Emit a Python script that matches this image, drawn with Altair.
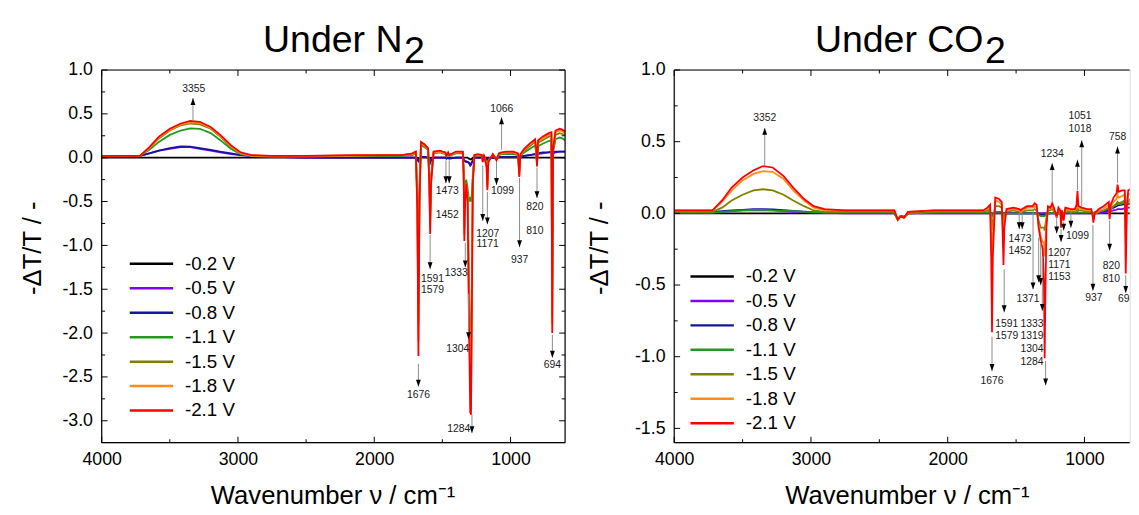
import altair as alt
import pandas as pd

FONT = "Liberation Sans"
SERIES = ["-0.2 V", "-0.5 V", "-0.8 V", "-1.1 V", "-1.5 V", "-1.8 V", "-2.1 V"]
COLORS = ["#000000", "#8000ff", "#14149c", "#1f9a1f", "#808000", "#ff8c1a", "#ff0000"]

X_MAJOR = [4000, 3000, 2000, 1000]
X_MINOR = [3500, 2500, 1500]
N2_Y_MAJOR = [1.0, 0.5, 0.0, -0.5, -1.0, -1.5, -2.0, -2.5, -3.0]
N2_Y_MINOR = [0.75, 0.25, -0.25, -0.75, -1.25, -1.75, -2.25, -2.75]
CO2_Y_MAJOR = [1.0, 0.5, 0.0, -0.5, -1.0, -1.5]
CO2_Y_MINOR = [0.75, 0.25, -0.25, -0.75, -1.25]

# ---------------- Under N2 ----------------
N2_WN = [4000, 3850, 3720, 3650, 3580, 3500, 3420, 3350, 3280, 3200,
         3130, 3050, 2980, 2900, 2750, 2500, 2200, 2000, 1800, 1720,
         1695, 1684, 1676, 1668, 1657, 1630, 1605, 1596, 1590, 1583,
         1565, 1520, 1477, 1470, 1458, 1450, 1400, 1350, 1344, 1339,
         1333, 1325, 1315, 1308, 1302, 1296, 1290, 1284, 1277, 1265,
         1240, 1210, 1204, 1195, 1176, 1170, 1163, 1130, 1103, 1085,
         1066, 1030, 980, 945, 936, 928, 900, 860, 820, 812,
         806, 798, 765, 720, 700, 694, 688, 670, 640, 620,
         600]
N2_BLACK = [0.0, 0.0, 0.0, 0.0, 0.0, 0.0, 0.0, 0.0, 0.0, 0.0,
            0.0, 0.0, 0.0, 0.0, 0.0, 0.0, 0.0, 0.0, 0.0, 0.0,
            0.0, 0.0, -0.01, 0.0, 0.0, 0.0, 0.0, 0.0, -0.01, 0.0,
            0.0, 0.0, 0.0, 0.0, 0.0, 0.0, 0.0, 0.0, 0.0, 0.0,
            0.0, 0.0, 0.0, -0.01, -0.01, -0.02, -0.02, -0.01, 0.0, 0.0,
            0.0, 0.0, 0.0, 0.0, 0.0, 0.0, 0.0, 0.0, 0.0, 0.0,
            0.0, 0.0, 0.0, 0.0, 0.0, 0.0, 0.0, 0.0, 0.0, 0.0,
            0.0, 0.0, 0.0, 0.0, 0.0, -0.01, 0.0, 0.0, 0.0, 0.0,
            0.0]
N2_PURPLE = [0.01, 0.01, 0.02, 0.05, 0.08, 0.1, 0.12, 0.12, 0.1, 0.08,
             0.06, 0.04, 0.03, 0.02, 0.01, 0.0, 0.0, 0.0, 0.0, 0.0,
             0.0, -0.02, -0.03, -0.02, 0.01, 0.01, 0.0, -0.02, -0.05, -0.03,
             0.0, 0.0, 0.0, -0.01, 0.0, -0.01, 0.0, 0.0, -0.02, -0.04,
             -0.04, -0.04, -0.05, -0.05, -0.06, -0.08, -0.07, -0.05, -0.03, 0.0,
             0.0, 0.0, -0.01, 0.0, -0.01, -0.03, -0.01, 0.0, -0.01, 0.01,
             0.01, 0.01, 0.01, 0.01, -0.02, 0.01, 0.02, 0.03, 0.04, 0.03,
             0.03, 0.04, 0.05, 0.06, 0.06, -0.03, 0.05, 0.06, 0.07, 0.07,
             0.07]
N2_BLUE = [0.01, 0.01, 0.02, 0.05, 0.08, 0.11, 0.13, 0.125, 0.11, 0.09,
           0.07, 0.05, 0.03, 0.02, 0.01, 0.0, 0.0, 0.0, 0.0, 0.0,
           0.0, -0.02, -0.04, -0.02, 0.01, 0.01, 0.0, -0.02, -0.06, -0.03,
           0.0, 0.0, 0.0, -0.01, 0.0, -0.01, 0.0, 0.0, -0.02, -0.04,
           -0.04, -0.05, -0.05, -0.06, -0.07, -0.09, -0.08, -0.06, -0.03, 0.0,
           0.0, 0.0, -0.01, 0.0, -0.01, -0.03, -0.01, 0.0, -0.01, 0.01,
           0.01, 0.01, 0.01, 0.01, -0.02, 0.01, 0.02, 0.03, 0.04, 0.03,
           0.03, 0.05, 0.06, 0.06, 0.07, -0.03, 0.06, 0.07, 0.07, 0.07,
           0.07]
N2_GREEN = [0.02, 0.02, 0.02, 0.09, 0.18, 0.26, 0.31, 0.334, 0.33, 0.28,
            0.2, 0.1, 0.04, 0.02, 0.01, 0.01, 0.02, 0.02, 0.02, 0.03,
            0.05, -0.4, -1.5, -0.3, 0.14, 0.12, 0.09, -0.2, -0.6, -0.2,
            0.05, 0.06, 0.04, 0.02, 0.04, 0.02, 0.05, 0.05, -0.12, -0.6,
            -0.3, -0.25, -0.35, -0.45, -0.5, -0.45, -0.5, -0.4, -0.2, 0.02,
            0.02, 0.02, -0.03, 0.02, -0.05, -0.25, -0.03, 0.03, -0.02, 0.03,
            0.04, 0.04, 0.04, 0.03, -0.15, 0.02, 0.06, 0.1, 0.14, 0.06,
            -0.06, 0.13, 0.16, 0.19, 0.2, -1.5, 0.06, 0.21, 0.23, 0.22,
            0.2]
N2_OLIVE = [0.02, 0.02, 0.02, 0.11, 0.22, 0.31, 0.37, 0.39, 0.38, 0.33,
            0.24, 0.12, 0.05, 0.02, 0.02, 0.02, 0.02, 0.02, 0.03, 0.04,
            0.06, -0.5, -1.9, -0.4, 0.16, 0.13, 0.1, -0.25, -0.72, -0.25,
            0.06, 0.07, 0.05, 0.02, 0.05, 0.03, 0.06, 0.06, -0.16, -0.8,
            -0.42, -0.28, -0.42, -1.1, -1.6, -2.3, -2.4, -1.4, -0.26, 0.02,
            0.03, 0.02, -0.04, 0.02, -0.07, -0.31, -0.04, 0.03, -0.02, 0.04,
            0.05, 0.05, 0.05, 0.04, -0.18, 0.03, 0.08, 0.13, 0.18, 0.08,
            -0.08, 0.17, 0.2, 0.24, 0.25, -1.8, 0.08, 0.26, 0.28, 0.27,
            0.26]
N2_ORANGE = [0.02, 0.02, 0.02, 0.11, 0.23, 0.32, 0.38, 0.4, 0.4, 0.34,
             0.25, 0.13, 0.05, 0.02, 0.02, 0.02, 0.02, 0.03, 0.03, 0.04,
             0.06, -0.55, -2.1, -0.45, 0.17, 0.14, 0.1, -0.28, -0.8, -0.28,
             0.06, 0.07, 0.05, 0.02, 0.05, 0.03, 0.06, 0.06, -0.18, -0.88,
             -0.45, -0.3, -0.45, -1.3, -1.9, -2.6, -2.7, -1.6, -0.28, 0.03,
             0.03, 0.03, -0.04, 0.03, -0.08, -0.34, -0.04, 0.04, -0.02, 0.04,
             0.05, 0.06, 0.06, 0.04, -0.2, 0.03, 0.09, 0.15, 0.2, 0.09,
             -0.09, 0.19, 0.22, 0.26, 0.27, -1.9, 0.09, 0.29, 0.31, 0.3,
             0.28]
N2_RED = [0.02, 0.02, 0.02, 0.12, 0.24, 0.33, 0.39, 0.42, 0.41, 0.35,
          0.26, 0.14, 0.06, 0.03, 0.02, 0.02, 0.03, 0.03, 0.03, 0.05,
          0.07, -0.6, -2.26, -0.5, 0.18, 0.15, 0.11, -0.3, -0.87, -0.3,
          0.07, 0.08, 0.06, 0.02, 0.06, 0.03, 0.07, 0.07, -0.2, -0.95,
          -0.5, -0.3, -0.5, -1.5, -2.2, -2.9, -2.93, -1.8, -0.3, 0.03,
          0.04, 0.03, -0.05, 0.03, -0.1, -0.37, -0.05, 0.04, -0.03, 0.05,
          0.06, 0.07, 0.07, 0.05, -0.22, 0.04, 0.1, 0.16, 0.21, 0.1,
          -0.1, 0.2, 0.24, 0.28, 0.29, -2.0, 0.1, 0.31, 0.33, 0.32,
          0.3]

N2_ARROW_X = [3330, 1676, 1590, 1474, 1450, 1332, 1308, 1283, 1204, 1170, 1103, 1066, 934, 806, 693]
N2_ARROW_FROM = [0.42, -2.35, -0.88, -0.03, -0.03, -0.97, -1.55, -2.93, -0.09, -0.39, -0.05, 0.09, -0.23, -0.11, -2.02]
N2_ARROW_TO = [0.68, -2.61, -1.27, -0.29, -0.29, -1.25, -2.07, -3.14, -0.72, -0.76, -0.31, 0.46, -1.02, -0.46, -2.28]
N2_LABELS = ["3355", "1676", "1591", "1579", "1473", "1452", "1333", "1304", "1284",
             "1207", "1171", "1099", "1066", "937", "820", "810", "694"]
N2_LABEL_X = [3325, 1676, 1573, 1573, 1464, 1464, 1399, 1387, 1380,
              1168, 1168, 1059, 1064, 934, 821, 821, 693]
N2_LABEL_Y = [0.78, -2.71, -1.38, -1.51, -0.378, -0.65, -1.32, -2.18, -3.09,
              -0.865, -0.98, -0.385, 0.55, -1.165, -0.56, -0.84, -2.36]

# ---------------- Under CO2 ----------------
CO2_WN = [4000, 3850, 3720, 3650, 3580, 3500, 3420, 3350, 3280, 3200,
          3130, 3050, 2980, 2900, 2750, 2500, 2390, 2365, 2345, 2320,
          2290, 2100, 1900, 1740, 1710, 1690, 1682, 1676, 1670, 1652,
          1625, 1605, 1598, 1592, 1586, 1570, 1520, 1477, 1466, 1455,
          1420, 1380, 1364, 1350, 1335, 1320, 1305, 1296, 1291, 1286,
          1278, 1267, 1250, 1236, 1220, 1203, 1190, 1176, 1171, 1165,
          1152, 1140, 1099, 1070, 1058, 1051, 1044, 1020, 980, 950,
          940, 935, 925, 895, 860, 835, 822, 816, 808, 787,
          765, 758, 750, 725, 705, 698, 690, 680, 660]
CO2_BLACK = [0.0, 0.0, 0.0, 0.0, 0.0, 0.0, 0.0, 0.0, 0.0, 0.0,
             0.0, 0.0, 0.0, 0.0, 0.0, 0.0, 0.0, -0.04, -0.02, -0.025,
             0.0, 0.0, 0.0, 0.0, 0.0, 0.0, 0.0, 0.0, 0.0, 0.0,
             0.0, 0.0, 0.0, 0.0, 0.0, 0.0, 0.0, 0.0, 0.0, 0.0,
             0.0, 0.0, 0.0, 0.0, 0.0, 0.0, 0.0, 0.0, 0.0, 0.0,
             0.0, 0.0, 0.0, 0.0, 0.0, 0.0, 0.0, 0.0, 0.0, 0.0,
             0.0, 0.0, 0.0, 0.0, 0.0, 0.0, 0.0, 0.0, 0.0, 0.0,
             0.0, 0.0, 0.0, 0.0, 0.0, 0.0, 0.0, 0.0, 0.0, 0.0,
             0.0, 0.0, 0.0, 0.0, 0.0, 0.0, 0.0, 0.0, 0.0]
CO2_PURPLE = [0.005, 0.005, 0.005, 0.01, 0.015, 0.02, 0.02, 0.02, 0.02, 0.015,
              0.01, 0.008, 0.005, 0.003, 0.0, 0.0, 0.0, -0.04, -0.02, -0.025,
              0.0, 0.0, 0.0, 0.0, 0.0, 0.0, 0.0, 0.0, 0.0, 0.0,
              0.0, 0.0, 0.0, 0.0, 0.0, 0.0, 0.0, 0.0, 0.0, 0.0,
              0.0, 0.0, 0.0, 0.0, 0.0, 0.0, 0.0, 0.0, 0.0, 0.0,
              0.0, 0.0, 0.0, 0.0, 0.0, 0.0, 0.0, 0.0, 0.0, 0.0,
              0.0, 0.0, 0.0, 0.0, 0.0, 0.0, 0.0, 0.0, 0.0, 0.0,
              0.0, 0.0, 0.0, 0.0, 0.005, 0.01, 0.01, 0.01, 0.015, 0.02,
              0.025, 0.03, 0.03, 0.03, 0.035, 0.03, 0.035, 0.04, 0.04]
CO2_BLUE = [0.005, 0.005, 0.01, 0.015, 0.02, 0.025, 0.03, 0.03, 0.028, 0.022,
            0.018, 0.012, 0.008, 0.006, 0.005, 0.005, 0.005, -0.04, -0.02, -0.025,
            0.0, 0.005, 0.005, 0.005, 0.005, 0.008, -0.005, -0.01, -0.005, 0.008,
            0.008, 0.005, 0.0, -0.005, 0.0, 0.0, 0.0, 0.0, 0.0, 0.0,
            0.0, 0.0, 0.0, 0.0, -0.005, -0.01, -0.01, -0.01, -0.01, -0.008,
            0.0, 0.0, 0.0, 0.003, 0.0, 0.0, 0.0, 0.0, -0.005, 0.0,
            0.0, 0.003, 0.003, 0.003, 0.003, 0.005, 0.003, 0.003, 0.003, 0.005,
            0.003, 0.0, 0.005, 0.01, 0.015, 0.02, 0.025, 0.02, 0.03, 0.04,
            0.05, 0.055, 0.055, 0.06, 0.065, 0.05, 0.06, 0.065, 0.07]
CO2_GREEN = [0.005, 0.005, 0.005, 0.01, 0.015, 0.02, 0.025, 0.025, 0.02, 0.018,
             0.015, 0.01, 0.008, 0.005, 0.005, 0.005, 0.005, -0.045, -0.02, -0.03,
             0.0, 0.005, 0.005, 0.005, 0.005, 0.01, -0.01, -0.02, -0.01, 0.01,
             0.01, 0.01, 0.0, -0.01, 0.0, 0.0, 0.0, 0.0, 0.0, 0.0,
             0.0, 0.0, 0.0, 0.0, -0.01, -0.02, -0.02, -0.02, -0.02, -0.015,
             -0.005, 0.0, 0.0, 0.005, 0.0, 0.0, 0.0, 0.0, -0.01, 0.0,
             0.0, 0.005, 0.005, 0.005, 0.005, 0.01, 0.005, 0.005, 0.005, 0.01,
             0.005, 0.0, 0.01, 0.015, 0.02, 0.03, 0.035, 0.03, 0.04, 0.05,
             0.06, 0.065, 0.065, 0.07, 0.075, 0.06, 0.07, 0.08, 0.085]
CO2_OLIVE = [0.01, 0.01, 0.01, 0.04, 0.09, 0.13, 0.16, 0.168, 0.16, 0.13,
             0.09, 0.05, 0.02, 0.01, 0.01, 0.01, 0.01, -0.045, -0.02, -0.03,
             0.0, 0.01, 0.01, 0.01, 0.02, 0.03, -0.05, -0.12, -0.05, 0.05,
             0.05, 0.04, -0.03, -0.08, -0.02, 0.01, 0.02, 0.01, 0.01, 0.01,
             0.02, 0.02, 0.03, 0.02, -0.05, -0.1, -0.1, -0.1, -0.12, -0.08,
             -0.03, 0.02, 0.02, 0.03, 0.01, -0.01, 0.02, 0.01, -0.03, 0.01,
             -0.01, 0.02, 0.01, 0.01, 0.02, 0.05, 0.02, 0.02, 0.01, 0.01,
             0.0, -0.02, 0.0, 0.01, 0.02, 0.03, 0.04, 0.0, 0.03, 0.05,
             0.07, 0.08, 0.07, 0.08, 0.09, -0.08, 0.03, 0.09, 0.1]
CO2_ORANGE = [0.02, 0.02, 0.02, 0.08, 0.16, 0.23, 0.275, 0.295, 0.29, 0.24,
              0.16, 0.09, 0.04, 0.02, 0.02, 0.02, 0.02, -0.045, -0.02, -0.03,
              0.01, 0.02, 0.02, 0.02, 0.03, 0.05, -0.15, -0.35, -0.15, 0.09,
              0.08, 0.06, -0.08, -0.2, -0.06, 0.02, 0.03, 0.02, 0.01, 0.02,
              0.04, 0.04, 0.05, 0.04, -0.08, -0.16, -0.2, -0.2, -0.3, -0.2,
              -0.06, 0.03, 0.03, 0.05, 0.02, -0.02, 0.03, 0.01, -0.06, 0.01,
              -0.03, 0.03, 0.02, 0.02, 0.04, 0.1, 0.04, 0.03, 0.02, 0.02,
              -0.01, -0.04, 0.0, 0.02, 0.03, 0.05, 0.06, -0.02, 0.05, 0.08,
              0.1, 0.13, 0.11, 0.12, 0.13, -0.2, 0.04, 0.13, 0.14]
CO2_RED = [0.02, 0.02, 0.02, 0.09, 0.18, 0.25, 0.3, 0.33, 0.32, 0.26,
           0.18, 0.1, 0.05, 0.03, 0.02, 0.02, 0.02, -0.045, -0.02, -0.03,
           0.01, 0.02, 0.02, 0.02, 0.04, 0.06, -0.3, -0.83, -0.3, 0.11,
           0.1, 0.08, -0.15, -0.36, -0.1, 0.03, 0.04, 0.03, 0.02, 0.03,
           0.05, 0.05, 0.07, 0.06, -0.1, -0.19, -0.25, -0.5, -1.01, -0.6,
           -0.1, 0.05, 0.04, 0.07, 0.03, -0.03, 0.04, 0.02, -0.1, 0.02,
           -0.05, 0.04, 0.03, 0.03, 0.06, 0.155, 0.05, 0.04, 0.03, 0.03,
           -0.02, -0.065, 0.0, 0.03, 0.05, 0.07, 0.08, -0.04, 0.06, 0.11,
           0.14, 0.2, 0.15, 0.16, 0.16, -0.42, 0.05, 0.16, 0.17]

CO2_ARROW_X = [3338, 1676, 1587, 1477, 1455, 1376, 1335, 1320, 1308, 1284, 1236,
               1203, 1171, 1152, 1099, 1051, 1020, 938, 816, 758, 698]
CO2_ARROW_FROM = [0.33, -0.86, -0.39, 0.0, 0.0, 0.03, -0.17, -0.2, -0.3, -1.03, 0.08,
                  -0.02, -0.11, -0.06, 0.01, 0.16, 0.05, -0.08, -0.05, 0.21, -0.43]
CO2_ARROW_TO = [0.596, -1.1, -0.69, -0.11, -0.11, -0.53, -0.48, -0.5, -0.68, -1.2, 0.35,
                -0.14, -0.2, -0.12, -0.1, 0.374, 0.51, -0.54, -0.26, 0.466, -0.555]
CO2_LABELS = ["3352", "1676", "1591", "1579", "1473", "1452", "1371", "1333", "1319",
              "1304", "1284", "1234", "1207", "1171", "1153", "1099", "1051", "1018",
              "937", "820", "810", "758", "694"]
CO2_LABEL_X = [3338, 1676, 1568, 1568, 1472, 1472, 1412, 1383, 1383,
               1383, 1383, 1236, 1183, 1183, 1183, 1051, 1032, 1032,
               931, 804, 804, 758, 691]
CO2_LABEL_Y = [0.667, -1.17, -0.77, -0.857, -0.18, -0.26, -0.6, -0.77, -0.857,
               -0.945, -1.036, 0.413, -0.28, -0.364, -0.445, -0.16, 0.676, 0.585,
               -0.589, -0.37, -0.456, 0.534, -0.6]

UP_HEAD = "M0,0L-0.7,2L0.7,2Z"
DOWN_HEAD = "M0,0L-0.7,-2L0.7,-2Z"
Y_LABEL_EXPR = "replace(format(datum.value, '.1f'), '\u2212', '-')"


def build_panel(wn, series_vals, xdom, ydom, ymajor, yminor, W, H,
                ax, afrom, ato, ltext, lx, ly, title_main, title_sub,
                tx_main, tx_sub, legend_x, legend_y, ytitle_x, xtitle_x,
                right_side, clip_text):
    for vals in series_vals:
        assert len(vals) == len(wn), (title_main, len(vals), len(wn))
    assert len(ax) == len(afrom) == len(ato)
    assert len(ltext) == len(lx) == len(ly)
    xs = alt.Scale(domain=xdom, nice=False, zero=False)
    ys = alt.Scale(domain=ydom, nice=False, zero=False)

    rows = []
    for name, vals in zip(SERIES, series_vals):
        for w, v in zip(wn, vals):
            rows.append({"wn": w, "val": v, "series": name})
    df = pd.DataFrame(rows)

    lines = alt.Chart(df).mark_line(strokeWidth=1.8, clip=True).encode(
        x=alt.X("wn:Q", scale=xs, axis=alt.Axis(
            values=X_MAJOR, format="d", ticks=False, tickSize=0, domain=False, grid=False,
            labelFont=FONT, labelFontSize=18, labelColor="black", labelPadding=17.5,
            labelBaseline="middle", labelFlush=False, labelOverlap=False,
            title="Wavenumber \u03bd / cm\u207b\u00b9", titleFont=FONT, titleFontSize=26,
            titleFontWeight="normal", titleColor="black", titleX=xtitle_x, titleY=61.3,
            titleAlign="center", titleBaseline="alphabetic")),
        y=alt.Y("val:Q", scale=ys, axis=alt.Axis(
            values=ymajor, labelExpr=Y_LABEL_EXPR, ticks=False, tickSize=0, domain=False,
            grid=False, labelFont=FONT, labelFontSize=18, labelColor="black",
            labelPadding=9.3, labelFlush=False, labelOverlap=False,
            title="-\u0394T/T / -", titleFont=FONT, titleFontSize=26, titleFontWeight="normal",
            titleColor="black", titleX=ytitle_x, titleY=180.3, titleAngle=270,
            titleAlign="center", titleBaseline="middle")),
        color=alt.Color("series:N", scale=alt.Scale(domain=SERIES, range=COLORS), sort=SERIES,
                        legend=alt.Legend(orient="none", legendX=legend_x, legendY=legend_y,
                                          title=None, symbolType="stroke", symbolSize=1936,
                                          symbolStrokeWidth=2.5, labelFont=FONT, labelFontSize=19,
                                          labelColor="black", labelOffset=10.5, clipHeight=19,
                                          rowPadding=4.8, padding=0)),
    )

    adf = pd.DataFrame({"x": ax, "y1": afrom, "y2": ato,
                        "dir": ["up" if t > f else "down" for f, t in zip(afrom, ato)]})
    arrow_lines = alt.Chart(adf).mark_rule(color="#8c8c8c", strokeWidth=1).encode(
        x=alt.X("x:Q", scale=xs),
        y=alt.Y("y1:Q", scale=ys),
        y2="y2:Q",
    )
    heads = alt.Chart(adf).mark_point(filled=True, opacity=1, color="black", size=49,
                                      strokeWidth=0).encode(
        x=alt.X("x:Q", scale=xs),
        y=alt.Y("y2:Q", scale=ys),
        shape=alt.Shape("dir:N", scale=alt.Scale(domain=["up", "down"], range=[UP_HEAD, DOWN_HEAD]),
                        legend=None),
    )
    ldf = pd.DataFrame({"t": ltext, "x": lx, "y": ly})
    labels = alt.Chart(ldf).mark_text(font=FONT, fontSize=10.5, color="#1a1a1a", clip=clip_text).encode(
        x=alt.X("x:Q", scale=xs),
        y=alt.Y("y:Q", scale=ys),
        text="t:N",
    )

    layers = [lines, arrow_lines, heads, labels]

    def yticks(vals, size, side):
        d = pd.DataFrame({"v": vals})
        x0, x1 = (0, size) if side == "left" else (W - size, W)
        return alt.Chart(d).mark_rule(color="black", strokeWidth=1).encode(
            y=alt.Y("v:Q", scale=ys), x=alt.value(x0), x2=alt.value(x1))

    def xticks(vals, size, side):
        d = pd.DataFrame({"v": vals})
        y0, y1 = (H - size, H) if side == "bottom" else (0, size)
        return alt.Chart(d).mark_rule(color="black", strokeWidth=1).encode(
            x=alt.X("v:Q", scale=xs), y=alt.value(y0), y2=alt.value(y1))

    layers += [yticks(ymajor, 6, "left"), yticks(yminor, 3.5, "left"),
               xticks(X_MAJOR, 6, "bottom"), xticks(X_MINOR, 3.5, "bottom"),
               xticks(X_MAJOR, 6, "top"), xticks(X_MINOR, 3.5, "top")]
    if right_side:
        layers += [yticks(ymajor, 6, "right"), yticks(yminor, 3.5, "right")]

    fd = pd.DataFrame({"k": [0]})
    frame = [
        alt.Chart(fd).mark_rule(color="black", strokeWidth=1.2).encode(
            x=alt.value(0), x2=alt.value(W), y=alt.value(0)),
        alt.Chart(fd).mark_rule(color="black", strokeWidth=1.2).encode(
            x=alt.value(0), x2=alt.value(W), y=alt.value(H)),
        alt.Chart(fd).mark_rule(color="black", strokeWidth=1.2).encode(
            x=alt.value(0), y=alt.value(0), y2=alt.value(H)),
    ]
    if right_side:
        frame.append(alt.Chart(fd).mark_rule(color="black", strokeWidth=1.2).encode(
            x=alt.value(W), y=alt.value(0), y2=alt.value(H)))
    layers += frame

    t1 = alt.Chart(pd.DataFrame({"t": [title_main]})).mark_text(
        font=FONT, fontSize=38, align="right", baseline="alphabetic", color="black").encode(
        x=alt.value(tx_main), y=alt.value(-18.4), text="t:N")
    t2 = alt.Chart(pd.DataFrame({"t": [title_sub]})).mark_text(
        font=FONT, fontSize=38, align="left", baseline="alphabetic", color="black").encode(
        x=alt.value(tx_sub), y=alt.value(-6.7), text="t:N")
    layers += [t1, t2]

    return alt.layer(*layers).properties(width=W, height=H)


left = build_panel(N2_WN, [N2_BLACK, N2_PURPLE, N2_BLUE, N2_GREEN, N2_OLIVE, N2_ORANGE, N2_RED],
                   [4000, 600], [-3.25, 1.0], N2_Y_MAJOR, N2_Y_MINOR, 470, 378,
                   N2_ARROW_X, N2_ARROW_FROM, N2_ARROW_TO, N2_LABELS, N2_LABEL_X, N2_LABEL_Y,
                   "Under N", "2", 305.1, 306.6, 27.0, 187.1, -70.3, 234.2, True, False)
right = build_panel(CO2_WN, [CO2_BLACK, CO2_PURPLE, CO2_BLUE, CO2_GREEN, CO2_OLIVE, CO2_ORANGE, CO2_RED],
                    [4000, 669], [-1.6, 1.0], CO2_Y_MAJOR, CO2_Y_MINOR, 462, 378,
                    CO2_ARROW_X, CO2_ARROW_FROM, CO2_ARROW_TO, CO2_LABELS, CO2_LABEL_X, CO2_LABEL_Y,
                    "Under CO", "2", 313.7, 315.2, 15.0, 199.9, -76.0, 236.0, False, True)

chart = alt.hconcat(left, right, spacing=110.7, bounds="flush").resolve_scale(
    color="independent", shape="independent").resolve_legend(color="independent").properties(
    padding={"left": 11, "top": 10.3, "right": 0, "bottom": 0}, background="white"
).configure_view(stroke=None).configure(font=FONT)

chart.save("out.html", embed_options={"renderer": "svg", "actions": False})
